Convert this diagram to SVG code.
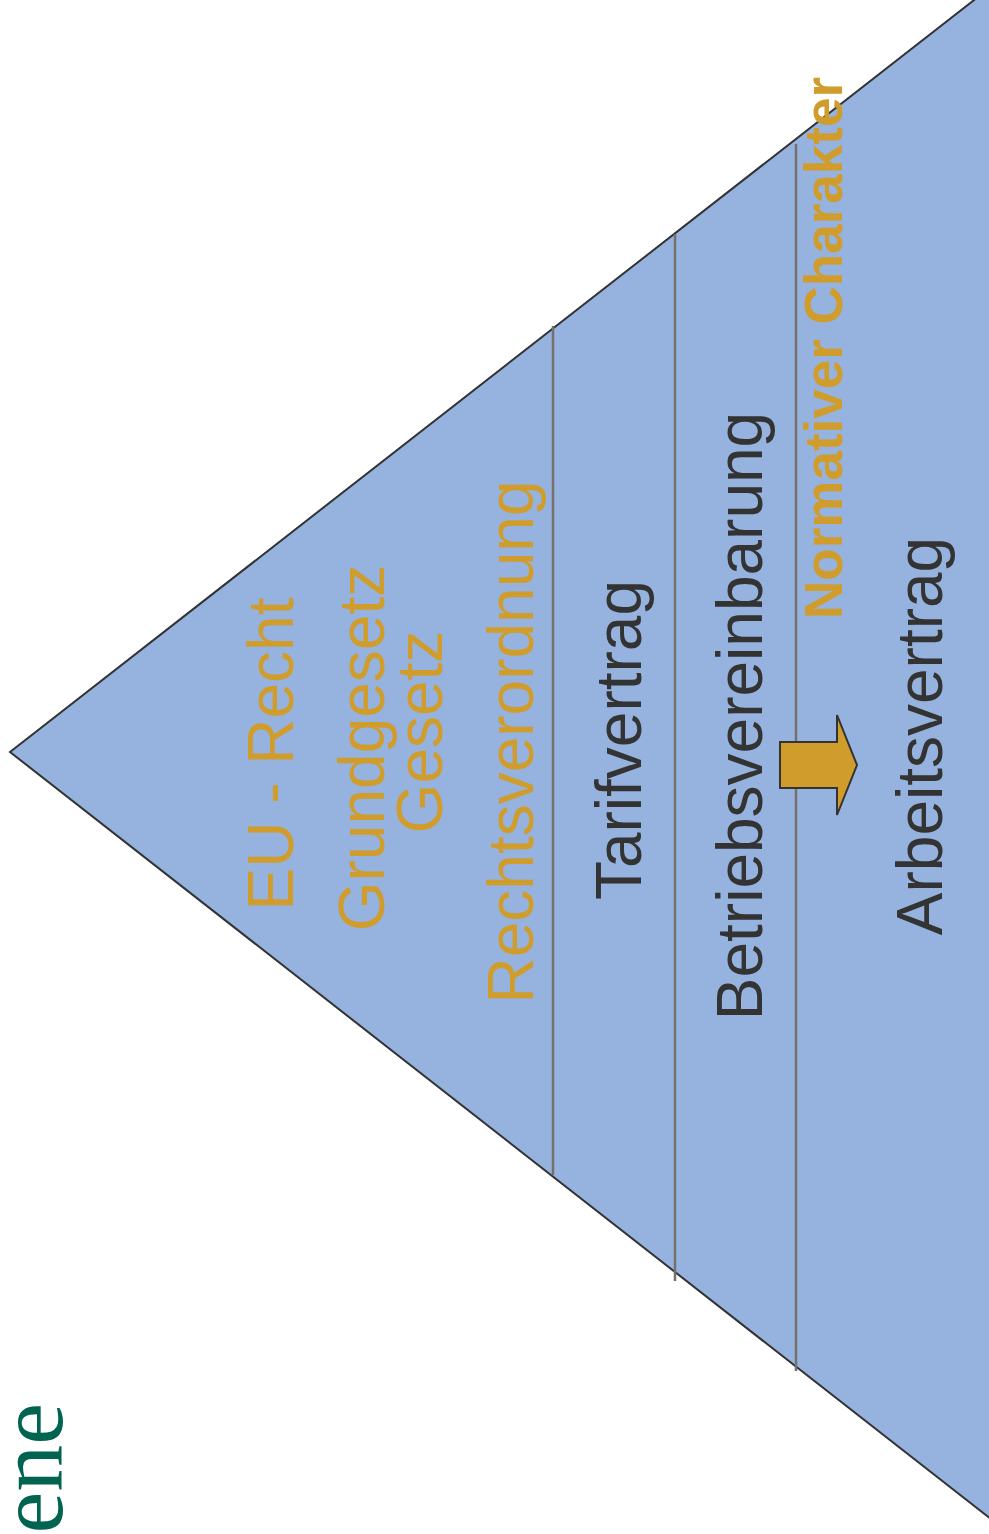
<svg xmlns="http://www.w3.org/2000/svg" width="989" height="1534" viewBox="0 0 989 1534">
<style>
.t{font-family:"Liberation Sans",Arial,sans-serif;font-size:64px;text-anchor:middle}
.gold{fill:#d09d2c}
.dark{fill:#333333}
.sep{stroke:#776e6e;stroke-width:2.5;fill:none}
</style>
<rect width="989" height="1534" fill="#ffffff"/>
<g id="pyramid">
<polygon points="10,752 1010,-28 1010,1534" fill="#95b3de" stroke="#333333" stroke-width="2"/>
</g>
<g id="separators">
<line class="sep" x1="553" y1="326" x2="553" y2="1175"/>
<line class="sep" x1="675" y1="234" x2="675" y2="1281"/>
<line class="sep" x1="796" y1="144" x2="796" y2="1371"/>
</g>
<g id="eu-recht"><text class="t gold" transform="translate(293,754) rotate(-90)">EU - Recht</text></g>
<g id="grundgesetz"><text class="t gold" transform="translate(384,748) rotate(-90)">Grundgesetz</text></g>
<g id="gesetz"><text class="t gold" transform="translate(442,732) rotate(-90)">Gesetz</text></g>
<g id="rechtsverordnung"><text class="t gold" transform="translate(533,742) rotate(-90)">Rechtsverordnung</text></g>
<g id="tarifvertrag"><text class="t dark" transform="translate(641,740) rotate(-90)">Tarifvertrag</text></g>
<g id="betriebsvereinbarung"><text class="t dark" transform="translate(762,716) rotate(-90)">Betriebsvereinbarung</text></g>
<g id="arbeitsvertrag"><text class="t dark" transform="translate(942,736) rotate(-90)">Arbeitsvertrag</text></g>
<g id="normativ"><text class="gold" font-family="Liberation Sans, Arial, sans-serif" font-weight="bold" font-size="53" text-anchor="middle" transform="translate(842,348) rotate(-90)">Normativer Charakter</text></g>
<g id="arrow">
<polygon points="780,742 837,742 837,715 857,765 837,815 837,788 780,788" fill="#d09d2c" stroke="#333333" stroke-width="2"/>
</g>
<g id="ebene"><text font-family="Liberation Serif, Times New Roman, serif" font-size="94" fill="#006450" text-anchor="end" transform="translate(62,1403) rotate(-90)">Ebene</text></g>
</svg>
